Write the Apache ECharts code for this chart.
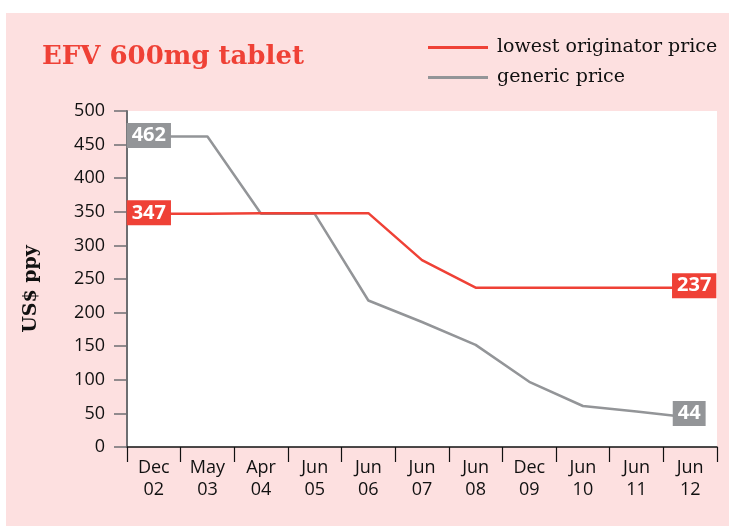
<!DOCTYPE html>
<html>
<head>
<meta charset="utf-8">
<script src="https://cdn.jsdelivr.net/npm/echarts@6/dist/echarts.min.js"></script>
<style>
  html, body { margin: 0; padding: 0; background: #fff; }
  #chart { width: 729px; height: 526px; }
</style>
</head>
<body>
<div id="chart"></div>
<script>
const months = ['Dec', 'May', 'Apr', 'Jun', 'Jun', 'Jun', 'Jun', 'Dec', 'Jun', 'Jun', 'Jun']
const years = ['02', '03', '04', '05', '06', '07', '08', '09', '10', '11', '12']
const originatorPrice = [347, 347, 348, 348, 348, 278, 237, 237, 237, 237, 237]
const genericPrice = [462, 462, 347, 347, 218, 186, 152, 97, 61, 53, 44]
const yTicks = { min: 0, max: 500, step: 50 }

const RED = '#ef4136'
const GREY = '#939598'
const PINK = '#fde0e0'

// label only the first and last point, like the original
function withEndLabels (values, color, firstOffset, lastOffset) {
  return values.map((v, i) => {
    if (i !== 0 && i !== values.length - 1) return v
    return {
      value: v,
      label: {
        show: true,
        position: 'inside',
        offset: i === 0 ? firstOffset : lastOffset,
        backgroundColor: color,
        color: '#fff',
        fontFamily: 'Open Sans',
        fontWeight: 'bold',
        fontSize: 20,
        lineHeight: 21,
        padding: [2, 5, 2, 5]
      }
    }
  })
}

const chart = echarts.init(document.getElementById('chart'))
chart.setOption({
  backgroundColor: '#fff',
  animation: false,
  graphic: [{
    type: 'rect',
    z: -10,
    silent: true,
    shape: { x: 6, y: 13, width: 723, height: 513 },
    style: { fill: PINK }
  }],
  title: {
    text: 'EFV 600mg tablet',
    left: 37,
    top: 39,
    textStyle: {
      color: RED,
      fontFamily: 'DejaVu Serif',
      fontWeight: 'bold',
      fontSize: 26
    }
  },
  legend: {
    orient: 'vertical',
    left: 423,
    top: 33,
    itemWidth: 60,
    itemHeight: 3,
    itemGap: 11,
    icon: 'rect',
    textStyle: {
      color: '#111',
      fontFamily: 'DejaVu Serif',
      fontSize: 19,
      padding: [0, 0, 0, 4]
    },
    data: ['lowest originator price', 'generic price']
  },
  grid: {
    left: 127,
    right: 12,
    top: 111,
    bottom: 79,
    show: true,
    backgroundColor: '#fff',
    borderWidth: 0,
    containLabel: false
  },
  xAxis: {
    type: 'category',
    boundaryGap: true,
    data: months.map((m, i) => m + '\n' + years[i]),
    axisLine: { lineStyle: { color: '#111', width: 1.5 } },
    axisTick: { show: true, interval: 0, length: 15, lineStyle: { color: '#111', width: 1.2 } },
    axisLabel: {
      interval: 0,
      margin: 10,
      color: '#111',
      fontFamily: 'Open Sans',
      fontSize: 18,
      lineHeight: 22
    },
    splitLine: { show: false }
  },
  yAxis: {
    type: 'value',
    min: yTicks.min,
    max: yTicks.max,
    interval: yTicks.step,
    name: 'US$ ppy',
    nameLocation: 'middle',
    nameRotate: 90,
    nameGap: 86,
    nameTextStyle: {
      color: '#111',
      fontFamily: 'DejaVu Serif',
      fontWeight: 'bold',
      fontSize: 19,
      padding: [0, 20, 0, 0]
    },
    axisLine: { show: true, lineStyle: { color: '#6d6e71', width: 2 } },
    axisTick: { show: true, length: 13, lineStyle: { color: '#6d6e71', width: 1.5 } },
    axisLabel: {
      margin: 22,
      color: '#111',
      fontFamily: 'Open Sans',
      fontSize: 18
    },
    splitLine: { show: false }
  },
  series: [
    {
      name: 'generic price',
      type: 'line',
      z: 2,
      symbol: 'circle',
      symbolSize: 0,
      showSymbol: true,
      color: GREY,
      lineStyle: { color: GREY, width: 2.5 },
      data: withEndLabels(genericPrice, GREY, [-5, -1], [-1, -4])
    },
    {
      name: 'lowest originator price',
      type: 'line',
      z: 3,
      symbol: 'circle',
      symbolSize: 0,
      showSymbol: true,
      color: RED,
      lineStyle: { color: RED, width: 2.5 },
      data: withEndLabels(originatorPrice, RED, [-5, -1], [4, -2])
    }
  ]
})
</script>
</body>
</html>
